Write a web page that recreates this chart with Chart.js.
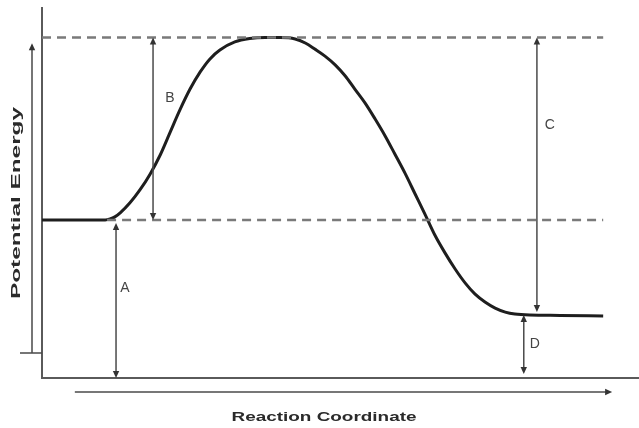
<!DOCTYPE html>
<html>
<head>
<meta charset="utf-8">
<script src="https://cdn.jsdelivr.net/npm/chart.js@4"></script>
<style>
  html, body { margin: 0; padding: 0; background: #fff; }
  #wrap { width: 639px; height: 428px; }
</style>
</head>
<body>
<div id="wrap"><canvas id="energyChart"></canvas></div>
<script>
// reaction path: coordinate (0-100) and potential energy (0-110)
const coordX = [0, 10.6, 11.4, 12.2, 13.1, 14.7, 16.4, 18.1, 19.8, 21.4, 23.1, 24.8, 26.5, 28.1, 29.8,
    32.3, 34.8, 37.4, 39.9, 42.4, 44.1, 45.7, 47.4, 49.1, 50.8, 52.4, 54.1, 55.8, 57.5, 59.1, 60.8,
    62.5, 64.2, 65.8, 67.5, 69.2, 70.9, 72.5, 74.2, 75.9, 77.6, 79.2, 81.7, 86.8, 94.0];
const energy = [47.0, 47.0, 47.3, 47.9, 49.1, 52.0, 55.9, 60.6, 66.3, 72.8, 79.7, 85.9, 91.0, 94.8, 97.5,
    99.9, 100.9, 101.2, 101.2, 100.8, 99.6, 97.8, 95.7, 93.1, 89.8, 85.9, 81.8, 77.0, 71.9, 66.6, 60.9,
    54.7, 48.5, 42.5, 37.2, 32.4, 28.2, 25.0, 22.6, 20.8, 19.6, 19.0, 18.7, 18.6, 18.4];

// energy levels
const reactantE = 47;
const peakE = 101.2;
const productE = 18.7;

// dashed reference levels
const levelStart = [0, 10.9];
const levelEnd = [94, 94];
const levelE = [peakE, reactantE];

// double-headed arrows A-D
const arrowNames = ['A', 'B', 'C', 'D'];
const arrowX = [12.4, 18.6, 82.9, 80.7];
const arrowLow = [0, reactantE, productE, 0];
const arrowHigh = [reactantE, peakE, peakE, productE];

const xTitle = 'Reaction Coordinate';
const yTitle = 'Potential Energy';

function head(ctx, x, y, dx, dy) {
    const len = 7, half = 3.2;
    ctx.beginPath();
    ctx.moveTo(x, y);
    ctx.lineTo(x - dx * len - dy * half, y - dy * len - dx * half);
    ctx.lineTo(x - dx * len + dy * half, y - dy * len + dx * half);
    ctx.closePath();
    ctx.fill();
}

function stretchedText(ctx, text, x, y, rot, font, target) {
    ctx.save();
    ctx.translate(x, y);
    ctx.rotate(rot);
    ctx.font = font;
    const w = ctx.measureText(text).width;
    ctx.scale(target / w, 1);
    ctx.textAlign = 'center';
    ctx.textBaseline = 'middle';
    ctx.fillText(text, 0, 0);
    ctx.restore();
}

const diagramPlugin = {
    id: 'diagram',
    beforeDatasetsDraw(chart) {
        const ctx = chart.ctx;
        const a = chart.chartArea;
        ctx.save();
        // axes
        ctx.strokeStyle = '#5a5a5a';
        ctx.lineWidth = 2;
        ctx.beginPath();
        ctx.moveTo(a.left, a.top - 1);
        ctx.lineTo(a.left, a.bottom);
        ctx.lineTo(a.right, a.bottom);
        ctx.stroke();
        ctx.restore();
    },
    afterDraw(chart) {
        const ctx = chart.ctx;
        const a = chart.chartArea;
        const xs = chart.scales.x;
        const ys = chart.scales.y;
        ctx.save();
        ctx.strokeStyle = '#4a4a4a';
        ctx.fillStyle = '#333';
        ctx.lineWidth = 1.5;

        // energy direction arrow beside the y axis
        const ex = a.left - 10;
        const eLow = ys.getPixelForValue(7.4);
        const eTop = ys.getPixelForValue(99.5);
        ctx.beginPath();
        ctx.moveTo(ex, eLow);
        ctx.lineTo(ex, eTop + 4);
        ctx.moveTo(a.left - 22, eLow);
        ctx.lineTo(a.left, eLow);
        ctx.stroke();
        head(ctx, ex, eTop, 0, -1);

        // reaction coordinate arrow under the x axis
        const ry = a.bottom + 14;
        const rLeft = xs.getPixelForValue(5.5);
        const rRight = xs.getPixelForValue(95.5);
        ctx.beginPath();
        ctx.moveTo(rLeft, ry);
        ctx.lineTo(rRight - 4, ry);
        ctx.stroke();
        head(ctx, rRight, ry, 1, 0);

        // A-D arrows and their letters
        const labelAt = [0.58, 0.67, 0.68, 0.5];
        const labelDx = [9, 17, 13, 11];
        const gapLow = [0, 0, 3, 4];
        const gapHigh = [3, 0, 0, 0];
        ctx.font = '14px "Liberation Sans", Arial, sans-serif';
        ctx.textAlign = 'center';
        ctx.textBaseline = 'middle';
        arrowNames.forEach((name, i) => {
            const x = xs.getPixelForValue(arrowX[i]);
            const yLow = ys.getPixelForValue(arrowLow[i]) - gapLow[i];
            const yHigh = ys.getPixelForValue(arrowHigh[i]) + gapHigh[i];
            ctx.strokeStyle = '#4a4a4a';
            ctx.beginPath();
            ctx.moveTo(x, yLow - 4);
            ctx.lineTo(x, yHigh + 4);
            ctx.stroke();
            head(ctx, x, yHigh, 0, -1);
            head(ctx, x, yLow, 0, 1);
            ctx.fillStyle = '#444';
            ctx.fillText(name, x + labelDx[i], yLow + (yHigh - yLow) * labelAt[i]);
            ctx.fillStyle = '#333';
        });

        // axis titles
        ctx.fillStyle = '#2a2a2a';
        stretchedText(ctx, xTitle, 324, 417, 0, 'bold 13px "Liberation Sans", Arial, sans-serif', 185);
        stretchedText(ctx, yTitle, 16, 203, -Math.PI / 2, 'bold 13px "Liberation Sans", Arial, sans-serif', 192);
        ctx.restore();
    }
};

const levelData = levelE.map((e, i) => [{ x: levelStart[i], y: e }, { x: levelEnd[i], y: e }]);

new Chart(document.getElementById('energyChart'), {
    type: 'scatter',
    data: {
        datasets: [
            {
                label: 'level',
                data: levelData[0],
                showLine: true,
                borderColor: '#7a7a7a',
                borderWidth: 2.5,
                borderDash: [9, 6],
                pointRadius: 0
            },
            {
                label: 'level',
                data: levelData[1],
                showLine: true,
                borderColor: '#7a7a7a',
                borderWidth: 2.5,
                borderDash: [9, 6],
                pointRadius: 0
            },
            {
                label: 'energy',
                data: coordX.map((x, i) => ({ x: x, y: energy[i] })),
                showLine: true,
                borderColor: '#1e1e1e',
                borderWidth: 3,
                cubicInterpolationMode: 'monotone',
                pointRadius: 0
            }
        ]
    },
    options: {
        responsive: true,
        maintainAspectRatio: false,
        animation: false,
        layout: { padding: { left: 42, right: 0, top: 8, bottom: 50 } },
        scales: {
            x: { type: 'linear', min: 0, max: 100, display: false },
            y: { min: 0, max: 110, display: false }
        },
        plugins: {
            legend: { display: false },
            tooltip: { enabled: false }
        }
    },
    plugins: [diagramPlugin]
});
</script>
</body>
</html>
